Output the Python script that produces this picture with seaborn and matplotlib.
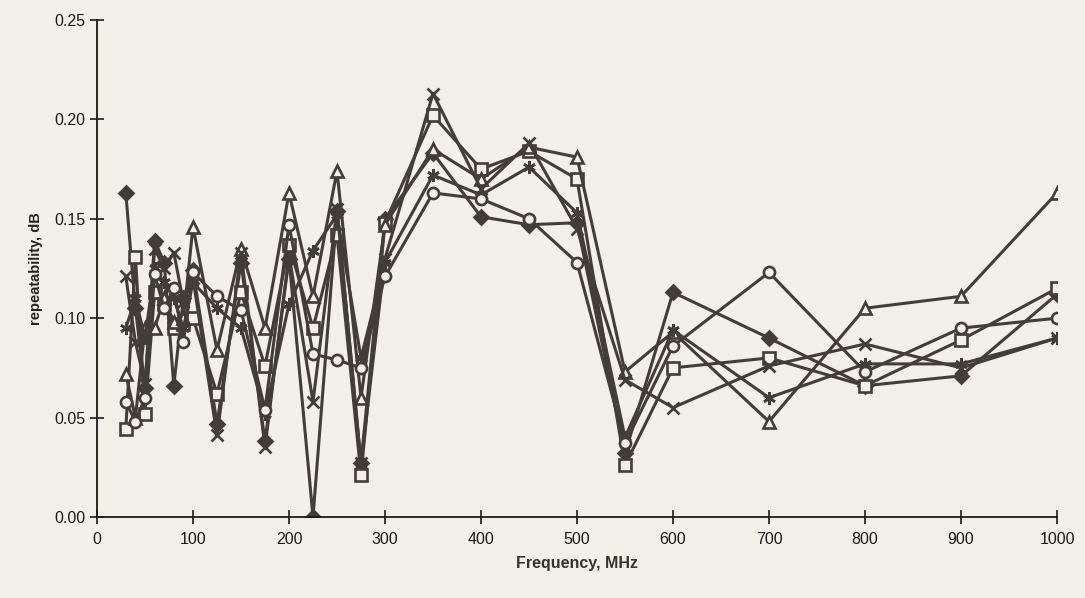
import pandas as pd
import numpy as np
import matplotlib
matplotlib.use("Agg")
import matplotlib.pyplot as plt
import seaborn as sns

# frequencies (MHz)
freq = [30, 40, 50, 60, 70, 80, 90, 100, 125, 150, 175, 200, 225, 250, 275,
        300, 350, 400, 450, 500, 550, 600, 700, 800, 900, 1000]

# repeatability per series, dB
diamond = [0.163, 0.105, 0.065, 0.139, 0.128, 0.066, 0.110, 0.124, 0.047, 0.128, 0.038, 0.130, 0.000,
           0.154, 0.027, 0.150, 0.183, 0.151, 0.147, 0.148, 0.032, 0.113, 0.090, 0.066, 0.071, 0.112]
square = [0.044, 0.131, 0.052, 0.113, 0.107, 0.095, 0.097, 0.100, 0.062, 0.113, 0.076, 0.137, 0.095,
          0.142, 0.021, 0.148, 0.202, 0.175, 0.184, 0.170, 0.026, 0.075, 0.080, 0.066, 0.089, 0.115]
triangle = [0.072, 0.050, 0.095, 0.095, 0.110, 0.098, 0.100, 0.146, 0.084, 0.135, 0.095, 0.163, 0.111,
            0.174, 0.060, 0.147, 0.185, 0.170, 0.186, 0.181, 0.073, 0.093, 0.048, 0.105, 0.111, 0.163]
cross = [0.121, 0.088, 0.067, 0.135, 0.125, 0.133, 0.108, 0.120, 0.041, 0.133, 0.035, 0.132, 0.058,
         0.155, 0.027, 0.130, 0.213, 0.165, 0.188, 0.145, 0.069, 0.055, 0.076, 0.087, 0.075, 0.090]
star = [0.095, 0.110, 0.090, 0.125, 0.118, 0.110, 0.095, 0.118, 0.105, 0.095, 0.052, 0.107, 0.134,
        0.152, 0.080, 0.128, 0.172, 0.162, 0.176, 0.153, 0.040, 0.094, 0.060, 0.077, 0.077, 0.090]
circle = [0.058, 0.048, 0.060, 0.122, 0.105, 0.115, 0.088, 0.123, 0.111, 0.104, 0.054, 0.147, 0.082,
          0.079, 0.075, 0.121, 0.163, 0.160, 0.150, 0.128, 0.037, 0.086, 0.123, 0.073, 0.095, 0.100]

series = {"diamond": diamond, "square": square, "triangle": triangle,
          "cross": cross, "star": star, "circle": circle}

rows = []
for name, vals in series.items():
    for f, v in zip(freq, vals):
        rows.append({"series": name, "freq": f, "value": v})
df = pd.DataFrame(rows)

sns.set_style("white")
plt.rcParams['font.family'] = ['Liberation Sans', 'DejaVu Sans']

bg = "#f2eee8"
ink = "#433d3a"

styles = {
    "diamond": dict(marker="D", mfc=ink, ms=7),
    "square": dict(marker="s", mfc=bg, ms=8),
    "triangle": dict(marker="^", mfc=bg, ms=9),
    "cross": dict(marker="x", mfc=ink, ms=9),
    "star": dict(marker=(6, 2, 0), mfc=ink, ms=9),
    "circle": dict(marker="o", mfc=bg, ms=8),
}

fig = plt.figure(figsize=(10.85, 5.98), dpi=100, facecolor=bg)
ax = fig.add_axes([0.0894, 0.1355, 0.8848, 0.8311])
ax.set_facecolor(bg)

for name in series:
    st = styles[name]
    sns.lineplot(data=df[df["series"] == name], x="freq", y="value", ax=ax,
                 color=ink, linewidth=2.2, marker=st["marker"], markersize=st["ms"],
                 markerfacecolor=st["mfc"], markeredgecolor=ink, markeredgewidth=1.9,
                 legend=False)

ax.set_xlim(0, 1000)
ax.set_ylim(0, 0.25)
ax.set_xticks(np.arange(0, 1001, 100))
ax.set_yticks(np.arange(0, 0.2501, 0.05))
ax.set_yticklabels([f"{t:.2f}" for t in np.arange(0, 0.2501, 0.05)])
ax.tick_params(axis="both", direction="inout", length=10, width=1.2, colors="#1a1a1a",
               labelsize=11.5, bottom=True, left=True)
ax.tick_params(axis="x", pad=6)
for s in ["top", "right"]:
    ax.spines[s].set_visible(False)
for s in ["left", "bottom"]:
    ax.spines[s].set_color("#1a1a1a")
    ax.spines[s].set_linewidth(1.3)

ax.set_xlabel("Frequency, MHz", fontsize=11.5, fontweight="bold", color="#333333", labelpad=6)
ax.set_ylabel("repeatability, dB", fontsize=10.5, fontweight="bold", color="#222222", labelpad=8)

fig.savefig("out.png", dpi=100, facecolor=bg)
